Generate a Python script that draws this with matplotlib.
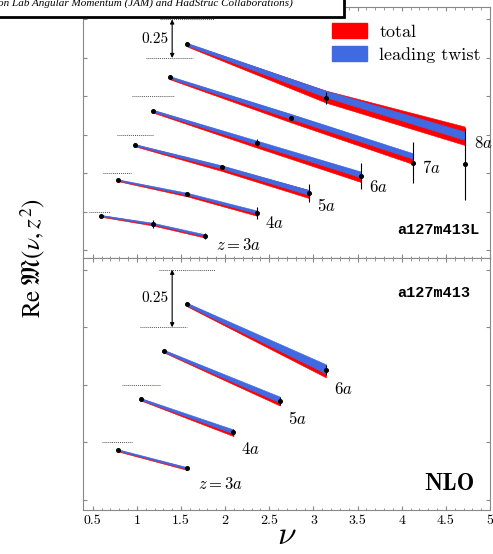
import numpy as np
import matplotlib
matplotlib.use("Agg")
import matplotlib.pyplot as plt
from matplotlib.patches import Patch, Rectangle

plt.rcParams['mathtext.fontset'] = 'cm'
plt.rcParams['font.family'] = 'cmr10'
plt.rcParams['axes.formatter.use_mathtext'] = True

RED = '#ff0000'
BLUE = '#4169e1'

## top panel: a127m413L, z = 3a ... 8a
top_z = [3, 4, 5, 6, 7, 8]
top_nu = [[0.589, 1.178, 1.767], [0.785, 1.571, 2.356], [0.982, 1.963, 2.945],
          [1.178, 2.356, 3.534], [1.374, 2.749, 4.123], [1.571, 3.142, 4.712]]
top_pts = [[0.976, 0.924, 0.846], [0.958, 0.867, 0.745], [0.935, 0.790, 0.621],
           [0.908, 0.696, 0.486], [0.875, 0.612, 0.320], [0.839, 0.492, 0.062]]
top_err = [[0.006, 0.026, 0.020], [0.005, 0.008, 0.038], [0.004, 0.008, 0.058],
           [0.005, 0.026, 0.084], [0.005, 0.008, 0.132], [0.005, 0.038, 0.234]]
top_tot = [[0.974, 0.919, 0.842], [0.955, 0.860, 0.740], [0.932, 0.782, 0.617],
           [0.904, 0.688, 0.477], [0.870, 0.607, 0.344], [0.834, 0.499, 0.245]]
top_tot_hw = [[0.005, 0.0065, 0.008], [0.005, 0.009, 0.014], [0.0065, 0.016, 0.026],
              [0.008, 0.0195, 0.032], [0.0085, 0.026, 0.032], [0.010, 0.039, 0.060]]
top_lt = [[0.977, 0.925, 0.849], [0.958, 0.868, 0.750], [0.935, 0.792, 0.627],
          [0.908, 0.701, 0.494], [0.875, 0.620, 0.364], [0.839, 0.516, 0.245]]
top_lt_hw = [[0.004, 0.005, 0.0065], [0.004, 0.0065, 0.010], [0.005, 0.0105, 0.016],
             [0.0065, 0.013, 0.019], [0.007, 0.016, 0.018], [0.0085, 0.021, 0.027]]
top_dots = [(0.46, 0.70), (0.62, 0.93), (0.78, 1.18), (0.94, 1.42), (1.10, 1.64), (1.26, 1.87)]
top_labels = [r'$z = 3a$', r'$4a$', r'$5a$', r'$6a$', r'$7a$', r'$8a$']
top_label_pos = [(2.155, 0.786), (2.553, 0.928), (3.151, 1.043), (3.739, 1.161),
                 (4.333, 1.288), (4.921, 1.451)]

## bottom panel: a127m413, z = 3a ... 6a
bot_z = [3, 4, 5, 6]
bot_nu = [[0.785, 1.571], [1.047, 2.094], [1.309, 2.618], [1.571, 3.142]]
bot_pts = [[0.967, 0.887], [0.938, 0.793], [0.897, 0.681], [0.850, 0.564]]
bot_err = [[0.004, 0.008], [0.004, 0.013], [0.005, 0.017], [0.006, 0.022]]
bot_tot = [[0.964, 0.885], [0.936, 0.788], [0.895, 0.675], [0.847, 0.556]]
bot_tot_hw = [[0.0035, 0.005], [0.0045, 0.011], [0.005, 0.015], [0.0065, 0.024]]
bot_lt = [[0.967, 0.888], [0.938, 0.797], [0.897, 0.686], [0.850, 0.569]]
bot_lt_hw = [[0.003, 0.004], [0.004, 0.009], [0.0045, 0.013], [0.0055, 0.020]]
bot_dots = [(0.61, 0.94), (0.83, 1.26), (1.04, 1.57), (1.25, 1.88)]
bot_labels = [r'$z = 3a$', r'$4a$', r'$5a$', r'$6a$']
bot_label_pos = [(1.947, 0.819), (2.288, 0.971), (2.818, 1.104), (3.341, 1.230)]

SHIFT = 0.25  # curves shifted up by 0.25 per unit of z


def draw_panel(ax, zs, nus, pts, errs, tot, tot_hw, lt, lt_hw, dots, labels, lpos):
    for k, z in enumerate(zs):
        off = SHIFT * (z - 3)
        nu = np.array(nus[k])
        tc = np.array(tot[k]) + off
        th = np.array(tot_hw[k])
        lc = np.array(lt[k]) + off
        lh = np.array(lt_hw[k])
        ax.fill_between(nu, tc - th, tc + th, color=RED, lw=0.4, zorder=2)
        ax.fill_between(nu, lc - lh, lc + lh, color=BLUE, lw=0.4, zorder=3)
        ax.errorbar(nu, np.array(pts[k]) + off, yerr=errs[k], fmt='o', ms=2.6,
                    color='k', elinewidth=0.8, capsize=0, zorder=4)
        ax.hlines(1 + off, dots[k][0], dots[k][1], colors='#555555',
                  linestyles=(0, (1, 1)), lw=0.7, zorder=1)
        ax.text(lpos[k][0], lpos[k][1], labels[k], fontsize=12, ha='center', va='center')


def style_axes(ax, ylim):
    ax.set_xticks(np.arange(0.5, 5.01, 0.5))
    ax.set_xticks(np.arange(0.5, 5.01, 0.1), minor=True)
    ax.set_yticks(np.arange(0.75, 2.4, 0.25))
    ax.set_xticklabels(['0.5', '1', '1.5', '2', '2.5', '3', '3.5', '4', '4.5', '5'])
    ax.set_xlim(0.39, 5.0)
    ax.set_ylim(*ylim)
    ax.tick_params(which='both', direction='in', top=True, right=True, color='#888888',
                   labelleft=False, labelsize=10, pad=3.5)
    ax.tick_params(which='major', length=3)
    ax.tick_params(which='minor', length=1.8)
    for s in ax.spines.values():
        s.set_color('#888888')
        s.set_linewidth(0.8)


fig = plt.figure(figsize=(4.93, 5.54), dpi=100)
ax1 = fig.add_axes([83/493, 296/554, 407/493, 251/554])
ax2 = fig.add_axes([83/493, 44/554, 407/493, 252/554])

draw_panel(ax1, top_z, top_nu, top_pts, top_err, top_tot, top_tot_hw, top_lt, top_lt_hw,
           top_dots, top_labels, top_label_pos)
draw_panel(ax2, bot_z, bot_nu, bot_pts, bot_err, bot_tot, bot_tot_hw, bot_lt, bot_lt_hw,
           bot_dots, bot_labels, bot_label_pos)
style_axes(ax1, (0.701, 2.331))
style_axes(ax2, (0.706, 1.801))
ax1.tick_params(labelbottom=False)

# 0.25 offset arrows
for ax, y0 in [(ax1, 2.0), (ax2, 1.5)]:
    ax.annotate('', xy=(1.40, y0 + SHIFT), xytext=(1.40, y0),
                arrowprops=dict(arrowstyle='<|-|>', color='k', lw=0.8,
                                mutation_scale=6, shrinkA=0, shrinkB=0))
    ax.text(1.20, y0 + SHIFT / 2, '0.25', fontsize=11, ha='center', va='center')

ax1.text(4.409, 0.884, 'a127m413L', family='Liberation Mono', weight='bold',
         fontsize=11, ha='center', va='center')
ax2.text(4.364, 1.650, 'a127m413', family='Liberation Mono', weight='bold',
         fontsize=11, ha='center', va='center')
ax2.text(4.541, 0.819, 'NLO', family='cmb10', fontsize=17, ha='center', va='center')

leg = ax1.legend(handles=[Patch(color=RED, label='total'),
                          Patch(color=BLUE, label='leading twist')],
                 loc='upper left', bbox_to_anchor=(0.595, 0.965), frameon=False,
                 fontsize=13, handlelength=1.9, handleheight=0.9,
                 handletextpad=0.7, labelspacing=0.35, borderaxespad=0)

ax2.set_xlabel(r'$\nu$', fontsize=24, labelpad=-4)
fig.text(33/493, 1 - 258/554, r'$\mathrm{Re}\;\mathfrak{M}(\nu, z^2)$', rotation=90,
         fontsize=18, ha='center', va='center', math_fontfamily='stix')

# cropped caption box from the page above
fig.add_artist(Rectangle((-0.02, 1 - 17/554), 0.02 + 344/493, 0.05,
                         transform=fig.transFigure, facecolor='white',
                         edgecolor='k', lw=2, zorder=10))
fig.text(293/493, 1 - 3/554,
         'Jefferson Lab Angular Momentum (JAM) and HadStruc Collaborations)',
         family='Liberation Serif', style='italic', fontsize=8, ha='right',
         va='center', zorder=11)

fig.savefig('out.png', dpi=100)
